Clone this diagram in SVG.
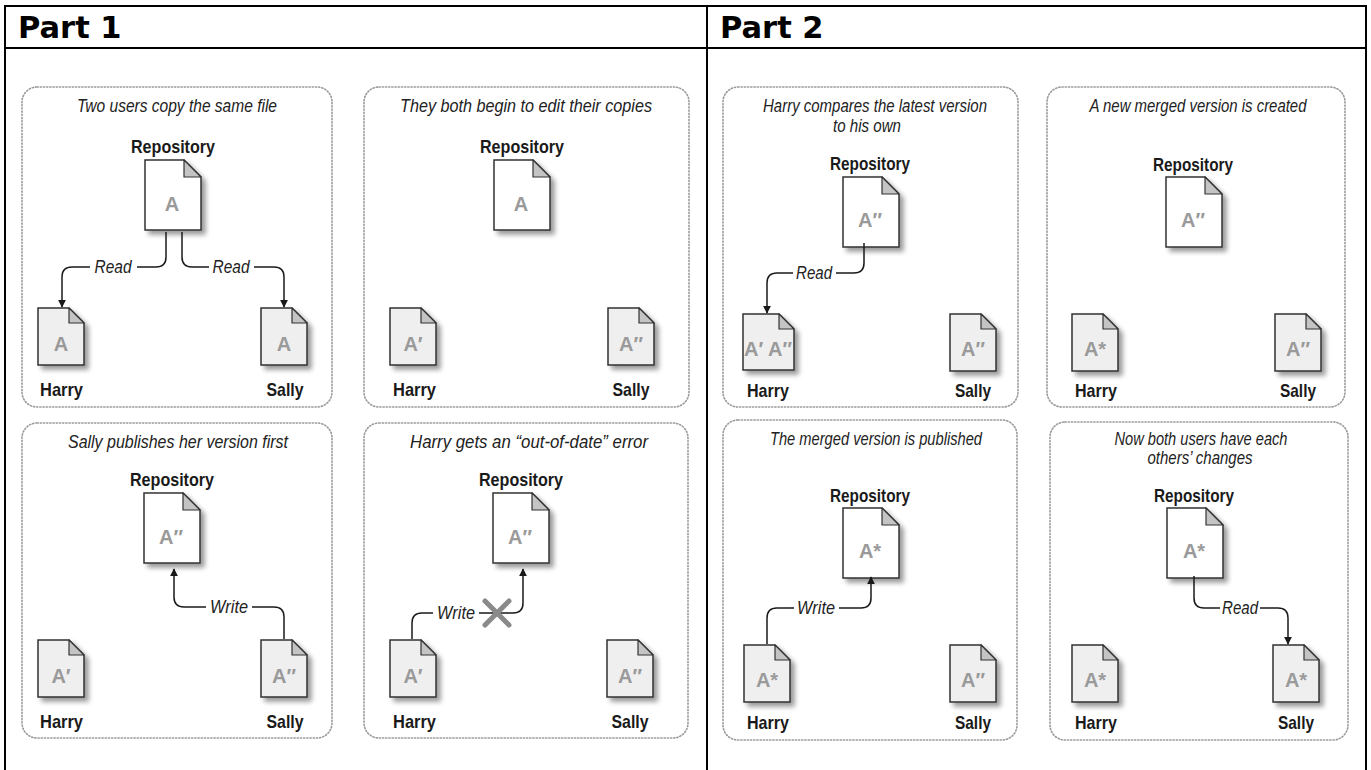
<svg xmlns="http://www.w3.org/2000/svg" xmlns:xlink="http://www.w3.org/1999/xlink" width="1371" height="770" viewBox="0 0 1371 770">
<style>
.frame{stroke:#000;stroke-width:2;fill:none}
.hdr{font-family:"DejaVu Sans",Verdana,sans-serif;font-weight:bold;font-size:30.5px;fill:#000}
.panel{fill:none;stroke:#9a9a9a;stroke-width:1.6;stroke-dasharray:1.2 2;stroke-linecap:round}
.title{font-family:"Liberation Sans Narrow","Liberation Sans",Arial,sans-serif;font-style:italic;font-size:18px;fill:#222;text-anchor:middle}
.lbl{font-family:"Liberation Sans Narrow","Liberation Sans",Arial,sans-serif;font-weight:bold;font-size:19px;fill:#1a1a1a}
.mid{text-anchor:middle}
.edge{font-family:"Liberation Sans Narrow","Liberation Sans",Arial,sans-serif;font-style:italic;font-size:18px;fill:#222;text-anchor:middle}
.doctxt{font-family:"Liberation Sans Narrow","Liberation Sans",Arial,sans-serif;font-weight:bold;font-size:20px;fill:#9a9a9a;text-anchor:middle}
.conn{fill:none;stroke:#1a1a1a;stroke-width:1.5}
.arrow{marker-end:url(#ah)}
.xmark{stroke:#8a8a8a;stroke-width:5;stroke-linecap:round}
</style>
<defs>
<marker id="ah" viewBox="0 0 10 10" refX="9" refY="5" markerWidth="8" markerHeight="8" markerUnits="userSpaceOnUse" orient="auto">
<path d="M0,0 L10,5 L0,10 Z" fill="#1a1a1a"/>
</marker>
<filter id="sh" x="-20%" y="-20%" width="150%" height="150%">
<feGaussianBlur in="SourceAlpha" stdDeviation="2.5"/>
<feOffset dx="4" dy="4" result="b"/>
<feComponentTransfer><feFuncA type="linear" slope="0.4"/></feComponentTransfer>
<feMerge><feMergeNode/><feMergeNode in="SourceGraphic"/></feMerge>
</filter>
<g id="repo">
<path d="M0,0 H39 L56,17 V70 H0 Z" fill="#fff" stroke="#333" stroke-width="1.5" filter="url(#sh)"/>
<path d="M39,0 V17 H56 Z" fill="#c4c4c4" stroke="#333" stroke-width="1.2" stroke-linejoin="round"/>
</g>
<g id="small">
<path d="M0,0 H31 L46,15 V57 H0 Z" fill="#efefef" stroke="#333" stroke-width="1.5" filter="url(#sh)"/>
<path d="M31,0 V15 H46 Z" fill="#c4c4c4" stroke="#333" stroke-width="1.2" stroke-linejoin="round"/>
</g>
<g id="wide">
<path d="M0,0 H36 L51,15 V56 H0 Z" fill="#efefef" stroke="#333" stroke-width="1.5" filter="url(#sh)"/>
<path d="M36,0 V15 H51 Z" fill="#c4c4c4" stroke="#333" stroke-width="1.2" stroke-linejoin="round"/>
</g>
</defs>

<rect width="1371" height="770" fill="#fff"/>

<g id="table">
<path class="frame" d="M5,6 H1366 M5,48 H1366 M5,5 V770 M707,5 V770 M1366,5 V770"/>
<text class="hdr" x="18" y="38">Part 1</text>
<text class="hdr" x="720" y="38">Part 2</text>
</g>

<!-- Panel 1 -->
<g id="panel1">
<rect class="panel" x="22" y="87" width="310" height="320" rx="15"/>
<text class="title" x="177" y="112" textLength="200" lengthAdjust="spacingAndGlyphs">Two users copy the same file</text>
<text class="lbl mid" x="173" y="153" textLength="84" lengthAdjust="spacingAndGlyphs">Repository</text>
<use xlink:href="#repo" x="145" y="160"/>
<text class="doctxt" x="172" y="211">A</text>
<use xlink:href="#small" x="38" y="308"/>
<text class="doctxt" x="61" y="351">A</text>
<use xlink:href="#small" x="261" y="308"/>
<text class="doctxt" x="284" y="351">A</text>
<text class="lbl" x="40" y="396" textLength="43" lengthAdjust="spacingAndGlyphs">Harry</text>
<text class="lbl mid" x="285" y="396" textLength="37" lengthAdjust="spacingAndGlyphs">Sally</text>
</g>

<!-- Panel 2 -->
<g id="panel2">
<rect class="panel" x="364" y="87" width="325" height="320" rx="15"/>
<text class="title" x="526" y="112" textLength="252" lengthAdjust="spacingAndGlyphs">They both begin to edit their copies</text>
<text class="lbl mid" x="522" y="153" textLength="84" lengthAdjust="spacingAndGlyphs">Repository</text>
<use xlink:href="#repo" x="494" y="160"/>
<text class="doctxt" x="521" y="211">A</text>
<use xlink:href="#small" x="390" y="308"/>
<text class="doctxt" x="413" y="351">A′</text>
<use xlink:href="#small" x="608" y="308"/>
<text class="doctxt" x="631" y="351">A″</text>
<text class="lbl" x="393" y="396" textLength="43" lengthAdjust="spacingAndGlyphs">Harry</text>
<text class="lbl mid" x="631" y="396" textLength="37" lengthAdjust="spacingAndGlyphs">Sally</text>
</g>

<!-- Panel 3 -->
<g id="panel3">
<rect class="panel" x="22" y="423" width="310" height="315" rx="15"/>
<text class="title" x="178" y="448" textLength="220" lengthAdjust="spacingAndGlyphs">Sally publishes her version first</text>
<text class="lbl mid" x="172" y="486" textLength="84" lengthAdjust="spacingAndGlyphs">Repository</text>
<use xlink:href="#repo" x="144" y="493"/>
<text class="doctxt" x="171" y="544">A″</text>
<use xlink:href="#small" x="38" y="640"/>
<text class="doctxt" x="61" y="683">A′</text>
<use xlink:href="#small" x="261" y="640"/>
<text class="doctxt" x="284" y="683">A″</text>
<text class="lbl" x="40" y="728" textLength="43" lengthAdjust="spacingAndGlyphs">Harry</text>
<text class="lbl mid" x="285" y="728" textLength="37" lengthAdjust="spacingAndGlyphs">Sally</text>
</g>

<!-- Panel 4 -->
<g id="panel4">
<rect class="panel" x="364" y="423" width="324" height="315" rx="15"/>
<text class="title" x="529" y="448" textLength="238" lengthAdjust="spacingAndGlyphs">Harry gets an “out-of-date” error</text>
<text class="lbl mid" x="521" y="486" textLength="84" lengthAdjust="spacingAndGlyphs">Repository</text>
<use xlink:href="#repo" x="493" y="493"/>
<text class="doctxt" x="520" y="544">A″</text>
<use xlink:href="#small" x="390" y="640"/>
<text class="doctxt" x="413" y="683">A′</text>
<use xlink:href="#small" x="607" y="640"/>
<text class="doctxt" x="630" y="683">A″</text>
<text class="lbl" x="393" y="728" textLength="43" lengthAdjust="spacingAndGlyphs">Harry</text>
<text class="lbl mid" x="630" y="728" textLength="37" lengthAdjust="spacingAndGlyphs">Sally</text>
</g>

<!-- Panel 5 -->
<g id="panel5">
<rect class="panel" x="723" y="87" width="295" height="320" rx="15"/>
<text class="title" x="875" y="112" textLength="224" lengthAdjust="spacingAndGlyphs">Harry compares the latest version</text>
<text class="title" x="867" y="132" textLength="68" lengthAdjust="spacingAndGlyphs">to his own</text>
<text class="lbl mid" x="870" y="170" textLength="80" lengthAdjust="spacingAndGlyphs">Repository</text>
<use xlink:href="#repo" x="843" y="177"/>
<text class="doctxt" x="870" y="227">A″</text>
<use xlink:href="#wide" x="743" y="314"/>
<text class="doctxt" x="768" y="356">A′ A″</text>
<use xlink:href="#small" x="950" y="314"/>
<text class="doctxt" x="973" y="356">A″</text>
<text class="lbl" x="747" y="397" textLength="42" lengthAdjust="spacingAndGlyphs">Harry</text>
<text class="lbl mid" x="973" y="397" textLength="36" lengthAdjust="spacingAndGlyphs">Sally</text>
</g>

<!-- Panel 6 -->
<g id="panel6">
<rect class="panel" x="1047" y="87" width="298" height="320" rx="15"/>
<text class="title" x="1198" y="112" textLength="217" lengthAdjust="spacingAndGlyphs">A new merged version is created</text>
<text class="lbl mid" x="1193" y="171" textLength="80" lengthAdjust="spacingAndGlyphs">Repository</text>
<use xlink:href="#repo" x="1166" y="177"/>
<text class="doctxt" x="1193" y="227">A″</text>
<use xlink:href="#small" x="1072" y="314"/>
<text class="doctxt" x="1095" y="356">A*</text>
<use xlink:href="#small" x="1275" y="314"/>
<text class="doctxt" x="1298" y="356">A″</text>
<text class="lbl" x="1075" y="397" textLength="42" lengthAdjust="spacingAndGlyphs">Harry</text>
<text class="lbl mid" x="1298" y="397" textLength="36" lengthAdjust="spacingAndGlyphs">Sally</text>
</g>

<!-- Panel 7 -->
<g id="panel7">
<rect class="panel" x="723" y="420" width="294" height="320" rx="15"/>
<text class="title" x="876" y="445" textLength="212" lengthAdjust="spacingAndGlyphs">The merged version is published</text>
<text class="lbl mid" x="870" y="502" textLength="80" lengthAdjust="spacingAndGlyphs">Repository</text>
<use xlink:href="#repo" x="843" y="508"/>
<text class="doctxt" x="870" y="558">A*</text>
<use xlink:href="#small" x="744" y="645"/>
<text class="doctxt" x="767" y="687">A*</text>
<use xlink:href="#small" x="950" y="645"/>
<text class="doctxt" x="973" y="687">A″</text>
<text class="lbl" x="747" y="729" textLength="42" lengthAdjust="spacingAndGlyphs">Harry</text>
<text class="lbl mid" x="973" y="729" textLength="36" lengthAdjust="spacingAndGlyphs">Sally</text>
</g>

<!-- Panel 8 -->
<g id="panel8">
<rect class="panel" x="1050" y="422" width="298" height="318" rx="15"/>
<text class="title" x="1201" y="445" textLength="173" lengthAdjust="spacingAndGlyphs">Now both users have each</text>
<text class="title" x="1200" y="464" textLength="105" lengthAdjust="spacingAndGlyphs">others’ changes</text>
<text class="lbl mid" x="1194" y="502" textLength="80" lengthAdjust="spacingAndGlyphs">Repository</text>
<use xlink:href="#repo" x="1167" y="508"/>
<text class="doctxt" x="1194" y="558">A*</text>
<use xlink:href="#small" x="1072" y="645"/>
<text class="doctxt" x="1095" y="687">A*</text>
<use xlink:href="#small" x="1273" y="645"/>
<text class="doctxt" x="1296" y="687">A*</text>
<text class="lbl" x="1075" y="729" textLength="42" lengthAdjust="spacingAndGlyphs">Harry</text>
<text class="lbl mid" x="1296" y="729" textLength="36" lengthAdjust="spacingAndGlyphs">Sally</text>
</g>

<g id="connectors">
<!-- panel 1 -->
<path class="conn" d="M166,232 V257 Q166,267 156,267 H137"/>
<path class="conn arrow" d="M90,267 H72 Q62,267 62,277 V307"/>
<text class="edge" x="113" y="273" textLength="37" lengthAdjust="spacingAndGlyphs">Read</text>
<path class="conn" d="M182,232 V257 Q182,267 192,267 H209"/>
<path class="conn arrow" d="M254,267 H274 Q284,267 284,277 V307"/>
<text class="edge" x="231" y="273" textLength="37" lengthAdjust="spacingAndGlyphs">Read</text>
<!-- panel 3 -->
<path class="conn" d="M284,639 V617 Q284,607 274,607 H252"/>
<path class="conn arrow" d="M206,607 H184 Q174,607 174,597 V569"/>
<text class="edge" x="229" y="613" textLength="38" lengthAdjust="spacingAndGlyphs">Write</text>
<!-- panel 4 -->
<path class="conn" d="M412,639 V623 Q412,613 422,613 H433"/>
<text class="edge" x="456" y="619" textLength="38" lengthAdjust="spacingAndGlyphs">Write</text>
<path class="conn arrow" d="M479,613 H513 Q523,613 523,603 V569"/>
<g id="xmark">
<path class="xmark" d="M485,601 L509,625 M509,601 L485,625"/>
</g>
<!-- panel 5 -->
<path class="conn" d="M864,243 V263 Q864,273 854,273 H836"/>
<path class="conn arrow" d="M793,273 H777 Q767,273 767,283 V313"/>
<text class="edge" x="814" y="279" textLength="36" lengthAdjust="spacingAndGlyphs">Read</text>
<!-- panel 7 -->
<path class="conn" d="M767,644 V618 Q767,608 777,608 H794"/>
<text class="edge" x="816" y="614" textLength="38" lengthAdjust="spacingAndGlyphs">Write</text>
<path class="conn arrow" d="M839,608 H861 Q871,608 871,598 V577"/>
<!-- panel 8 -->
<path class="conn" d="M1194,576 V598 Q1194,608 1204,608 H1220"/>
<text class="edge" x="1240" y="614" textLength="36" lengthAdjust="spacingAndGlyphs">Read</text>
<path class="conn arrow" d="M1260,608 H1278 Q1288,608 1288,618 V644"/>
</g>
</svg>
